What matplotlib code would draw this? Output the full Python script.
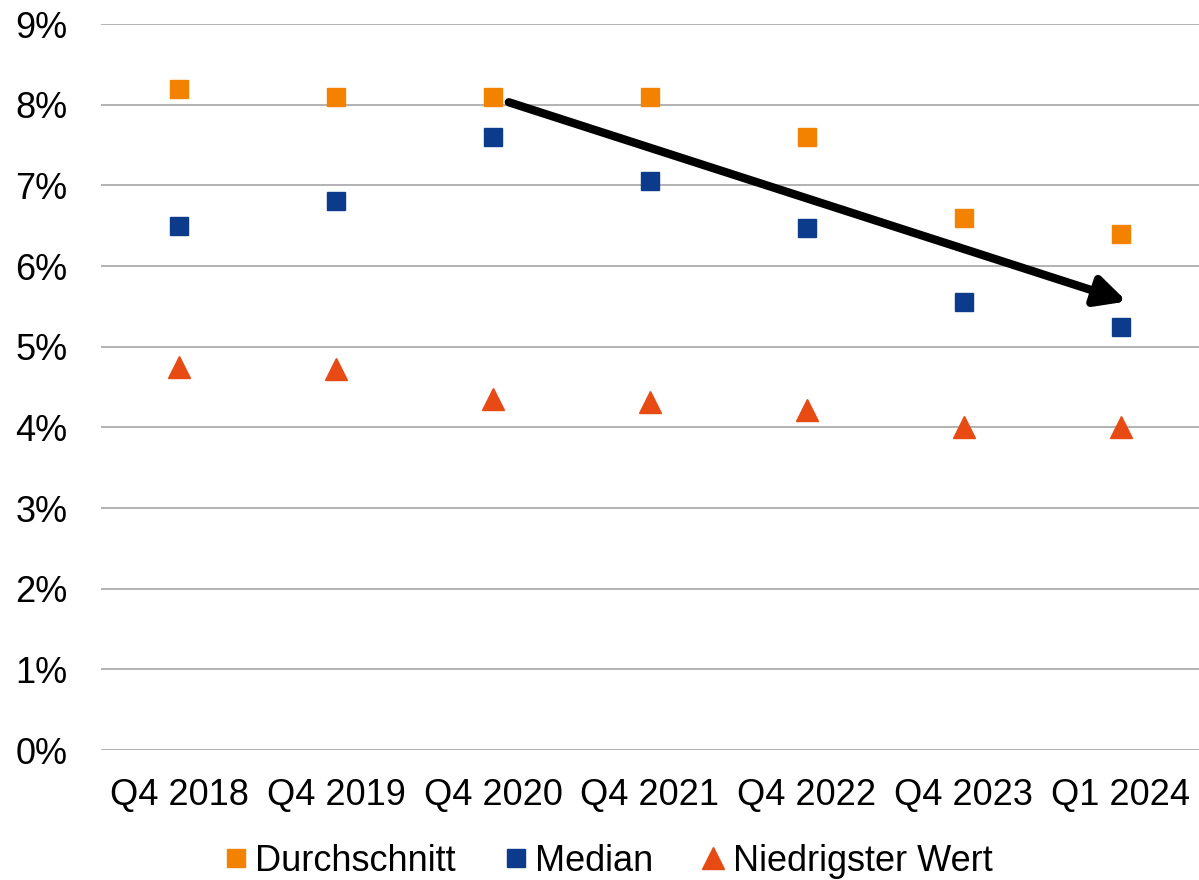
import matplotlib.pyplot as plt
import numpy as np

categories = ["Q4 2018", "Q4 2019", "Q4 2020", "Q4 2021", "Q4 2022", "Q4 2023", "Q1 2024"]
durchschnitt = [8.20, 8.10, 8.10, 8.10, 7.60, 6.60, 6.40]
median = [6.50, 6.80, 7.60, 7.05, 6.47, 5.55, 5.24]
niedrigster = [4.75, 4.72, 4.35, 4.32, 4.22, 4.00, 4.00]

# trend arrow (x in category index, y in %)
arrow_start = (2.10, 8.03)
arrow_end = (6.04, 5.56)

plt.rcParams['font.family'] = ['Liberation Sans', 'DejaVu Sans']

fig = plt.figure(figsize=(11.99, 8.8), dpi=100)
ax = fig.add_axes([101/1199, 1 - 750/880, 1 - 101/1199, (750 - 24)/880])

x = np.arange(len(categories))
ax.plot(x, durchschnitt, ls="none", marker="s", ms=13.5, color="#F28200", label="Durchschnitt", zorder=3)
ax.plot(x, median, ls="none", marker="s", ms=13.5, color="#0D3B8C", label="Median", zorder=3)
ax.plot(x, niedrigster, ls="none", marker="^", ms=16, color="#E84A14", label="Niedrigster Wert", zorder=3)

ax.annotate("", xy=arrow_end, xytext=arrow_start,
            arrowprops=dict(arrowstyle="-|>,head_length=1.8,head_width=0.9", lw=6, color="black",
                            shrinkA=0, shrinkB=0), zorder=4)

ax.set_xlim(-0.5, len(categories) - 0.5)
ax.set_ylim(0, 9)
ax.set_yticks(range(0, 10))
ax.set_yticklabels([f"{i}%" for i in range(0, 10)])
ax.set_xticks(x)
ax.set_xticklabels(categories)
ax.tick_params(axis="both", length=0, labelsize=26, colors="black")
ax.tick_params(axis="y", pad=24)
ax.tick_params(axis="x", pad=20)
ax.grid(axis="y", color="#a6a6a6", lw=1.2)
ax.set_axisbelow(True)
for s in ax.spines.values():
    s.set_visible(False)

ax.legend(loc="upper center", bbox_to_anchor=(0.46, -0.094), ncol=3, frameon=False, fontsize=26,
          handletextpad=0.1, columnspacing=1.2, handlelength=0.9, markerscale=1.0,
          borderpad=0.2)

fig.savefig("out.png", dpi=100)
